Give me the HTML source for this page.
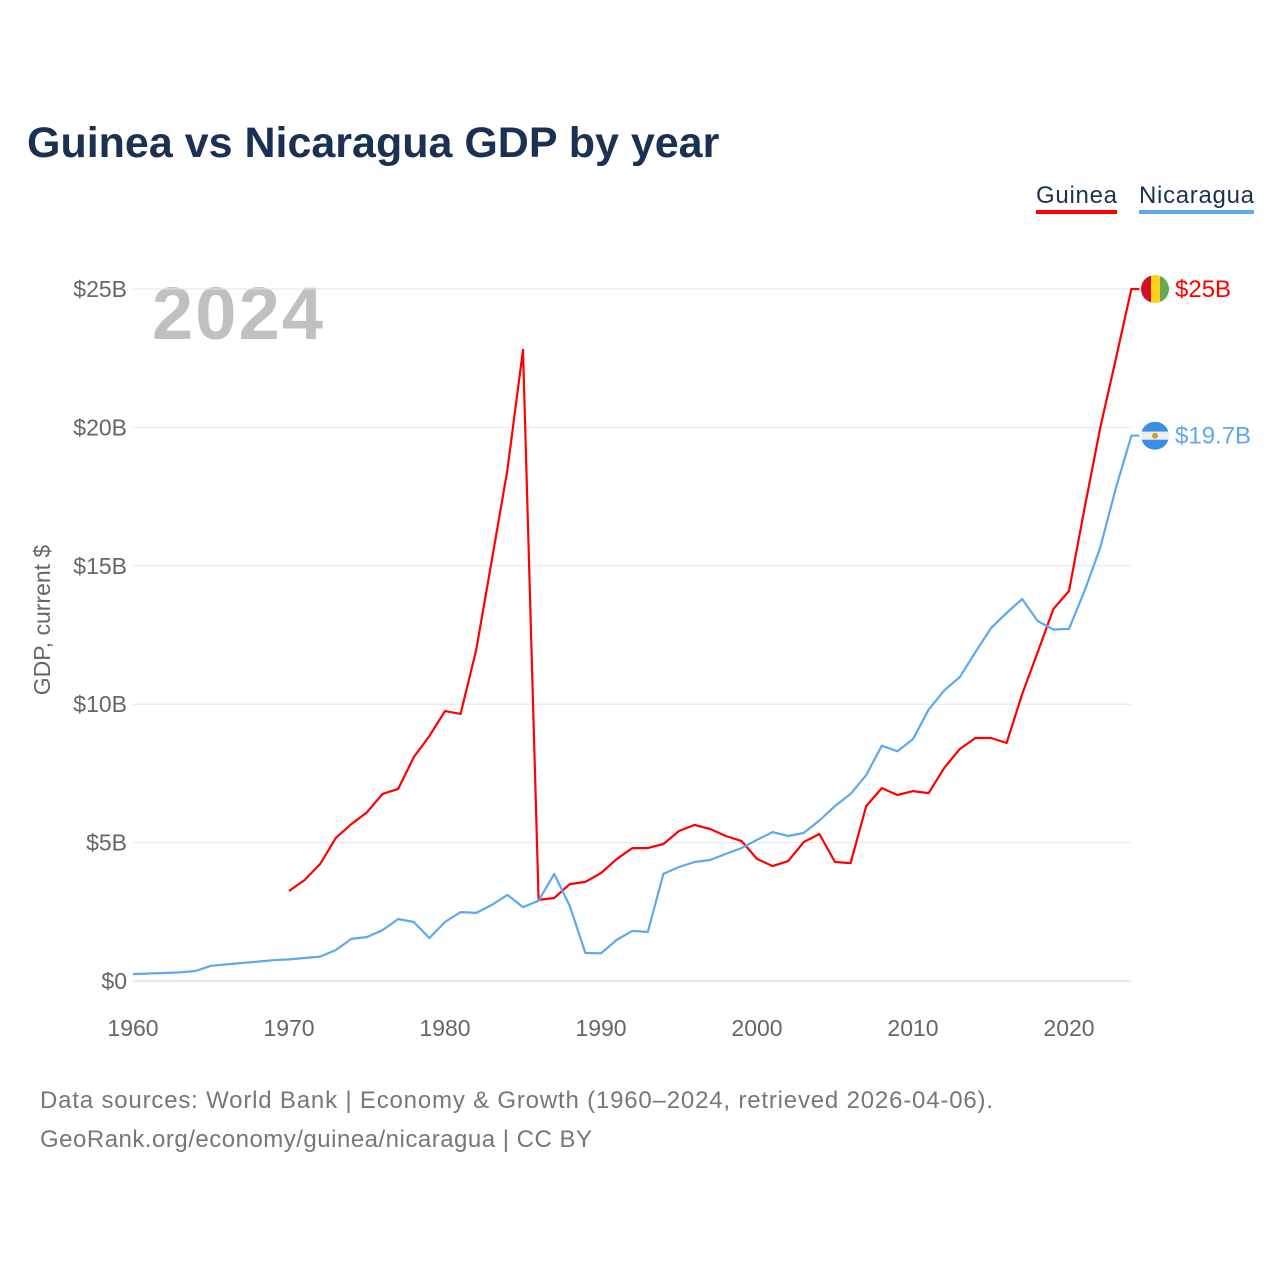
<!DOCTYPE html>
<html><head><meta charset="utf-8"><style>
body{margin:0;background:#fff;width:1280px;height:1280px;overflow:hidden;font-family:"Liberation Sans",sans-serif}
</style></head><body>
<svg width="1280" height="1280" xmlns="http://www.w3.org/2000/svg" id="chart">
<text x="27" y="157" font-size="43" font-weight="bold" fill="#1b3152">Guinea vs Nicaragua GDP by year</text>
<g>
<text x="1036" y="203" font-size="24" fill="#1b3152" textLength="81">Guinea</text>
<rect x="1036" y="210" width="81" height="4" fill="#ff0000"/>
<text x="1139" y="203" font-size="24" fill="#1b3152" textLength="115">Nicaragua</text>
<rect x="1139" y="210" width="115" height="4" fill="#5ea8f0"/>
</g>
<text x="152" y="339" font-size="74" font-weight="bold" fill="#c0c0c0" textLength="171">2024</text>
<text transform="translate(50,620) rotate(-90)" text-anchor="middle" font-size="23" fill="#666">GDP, current $</text>
<g id="grid"></g><g id="axes"></g><g id="lines"></g><g id="ends"></g>
<text x="40" y="1108" font-size="24" fill="#777" textLength="953">Data sources: World Bank | Economy &amp; Growth (1960–2024, retrieved 2026-04-06).</text>
<text x="40" y="1147" font-size="24" fill="#777" textLength="552">GeoRank.org/economy/guinea/nicaragua | CC BY</text>
</svg>
<script>
const yTicks=[0,5,10,15,20,25];
const yTickLabels=["$0","$5B","$10B","$15B","$20B","$25B"];
const xTicks=[1960,1970,1980,1990,2000,2010,2020];
const guineaStart=1970;
const guineaValues=[3.25,3.65,4.23,5.17,5.67,6.1,6.76,6.94,8.09,8.85,9.75,9.65,11.96,15.2,18.46,22.8,2.93,3.0,3.5,3.58,3.9,4.4,4.8,4.8,4.95,5.42,5.64,5.49,5.24,5.06,4.41,4.15,4.33,5.02,5.31,4.3,4.26,6.32,6.97,6.72,6.86,6.79,7.7,8.38,8.78,8.78,8.6,10.37,11.89,13.44,14.09,17.09,19.98,22.47,25.0];
const nicaraguaStart=1960;
const nicaraguaValues=[0.25,0.27,0.29,0.31,0.36,0.55,0.6,0.65,0.7,0.75,0.78,0.83,0.88,1.12,1.52,1.59,1.84,2.24,2.13,1.55,2.13,2.49,2.46,2.75,3.11,2.67,2.9,3.87,2.71,1.01,1.0,1.48,1.81,1.77,3.87,4.12,4.3,4.37,4.59,4.8,5.1,5.38,5.24,5.35,5.8,6.32,6.76,7.44,8.5,8.3,8.74,9.8,10.5,10.98,11.88,12.75,13.3,13.8,13.0,12.7,12.72,14.1,15.65,17.8,19.7];
const endLabels=["$25B","$19.7B"];
const NS="http://www.w3.org/2000/svg";
const x=yr=>133+(yr-1960)*15.6;
const y=v=>981-v*27.68;
function mk(tag,attrs,parent,txt){const e=document.createElementNS(NS,tag);for(const k in attrs)e.setAttribute(k,attrs[k]);if(txt!=null)e.textContent=txt;document.getElementById(parent).appendChild(e);return e;}
yTicks.forEach((t,i)=>{
 const l=mk('line',{x1:133,x2:1131,y1:y(t),y2:y(t),stroke:t===0?'#ccc':'#e6e6e6','stroke-width':1},'grid');
 
 
 const tx=mk('text',{x:127,y:y(t)+8,'text-anchor':'end','font-size':23,fill:'#666'},'axes',yTickLabels[i]);
 
 
});
xTicks.forEach(t=>{
 const tx=mk('text',{x:x(t),y:1036,'text-anchor':'middle','font-size':23,fill:'#666'},'axes',t);
 
 
});
function series(vals,start,color,name){
 const pts=vals.map((v,i)=>x(start+i).toFixed(1)+','+y(v).toFixed(1));
 const last=vals[vals.length-1];
 pts.push((x(start+vals.length-1)+8)+','+y(last).toFixed(1));
 const p=mk('polyline',{points:pts.join(' '),fill:'none',stroke:color,'stroke-width':2.2,'stroke-linejoin':'round'},'lines');
 
 
 return y(last);
}
const gy=series(guineaValues,guineaStart,'#ff0000','guinea');
const ny=series(nicaraguaValues,nicaraguaStart,'#5ea8f0','nicaragua');
const g1=mk('g',{},'ends');


g1.innerHTML=`<clipPath id="cg"><circle cx="1155" cy="${gy}" r="14"/></clipPath><g clip-path="url(#cg)"><rect x="1141" y="${gy-14}" width="10" height="28" fill="#ce1126"/><rect x="1151" y="${gy-14}" width="9" height="28" fill="#fcd116"/><rect x="1160" y="${gy-14}" width="10" height="28" fill="#6aa84f"/></g>`;
const g2=mk('g',{},'ends');


g2.innerHTML=`<clipPath id="cn"><circle cx="1155" cy="${ny}" r="14"/></clipPath><g clip-path="url(#cn)"><rect x="1141" y="${ny-14}" width="28" height="10" fill="#3a8ee6"/><rect x="1141" y="${ny-4}" width="28" height="8" fill="#eee"/><rect x="1141" y="${ny+4}" width="28" height="10" fill="#3a8ee6"/><circle cx="1155" cy="${ny}" r="3" fill="#c9a227"/></g>`;
const e1=mk('text',{x:1175,y:gy+8,'font-size':24,fill:'#ff0000'},'ends',endLabels[0]);


const e2=mk('text',{x:1175,y:ny+8,'font-size':24,fill:'#5ea8f0'},'ends',endLabels[1]);


</script>
</body></html>
